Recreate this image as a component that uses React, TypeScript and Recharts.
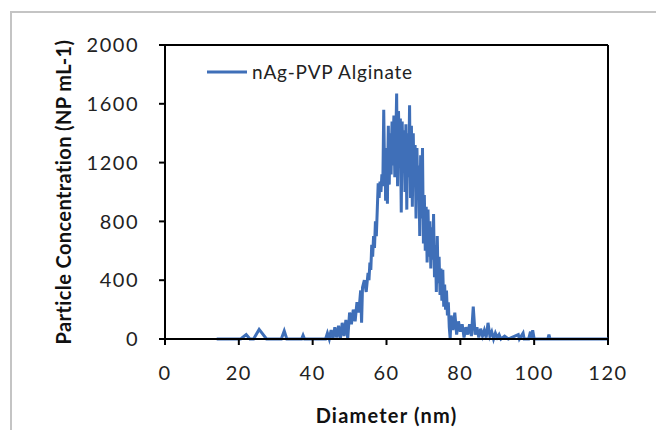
import React from "react";
import { LineChart, Line, XAxis, YAxis, ReferenceLine, Legend } from "recharts";

const diameters: number[] = [
  14, 20.5, 22, 23, 24, 25.5, 27.5, 31.5, 32.3, 33, 37, 37.4, 37.8, 43.5,
  44, 44.5, 45, 45.5, 46, 46.5, 47, 47.5, 48, 48.5, 49, 49.5,
  50, 50.5, 51, 51.5, 52, 52.5, 53, 53.25, 53.5, 54, 54.5,
  55, 55.25, 55.5, 55.75, 56, 56.25, 56.5, 56.75, 57, 57.25, 57.5, 57.75,
  58, 58.25, 58.5, 58.75, 59, 59.25,
  59.5, 59.625, 59.75, 59.875, 60, 60.125, 60.25, 60.375, 60.5, 60.625, 60.75, 60.875,
  61, 61.125, 61.25, 61.375, 61.5, 61.625, 61.75, 61.875, 62, 62.125, 62.25, 62.375,
  62.5, 62.625, 62.75, 62.875, 63, 63.125, 63.25, 63.375, 63.5, 63.625, 63.75, 63.875,
  64, 64.125, 64.25, 64.375, 64.5, 64.625, 64.75, 64.875, 65, 65.125, 65.25, 65.375,
  65.5, 65.625, 65.75, 65.875, 66, 66.125, 66.25, 66.375, 66.5, 66.625, 66.75, 66.875,
  67, 67.125, 67.25, 67.375, 67.5, 67.625, 67.75, 67.875, 68, 68.125, 68.25, 68.375,
  68.5, 68.625, 68.75, 68.875, 69, 69.125, 69.25, 69.375, 69.5, 69.625, 69.75,
  70, 70.25, 70.5, 70.75, 71, 71.25, 71.5, 71.75, 72, 72.25, 72.5, 72.75,
  73, 73.25, 73.5, 73.75, 74, 74.25, 74.5, 74.75, 75, 75.25, 75.5, 75.75,
  76, 76.25, 76.5, 76.75, 77, 77.25, 77.5, 78, 78.5, 79, 79.5, 80, 80.5, 81, 81.5,
  82, 82.5, 83, 83.5, 84, 84.5, 85, 85.5, 86, 86.5, 87, 87.5, 88, 88.5, 89, 89.5,
  90, 90.5, 91, 92, 93, 95.7, 96, 97, 97.3, 98.5, 99, 99.3, 99.6, 100, 103.7, 104, 104.3, 120,
];

const concentrations: number[] = [
  0, 0, 30, 0, 0, 65, 0, 0, 55, 0, 0, 25, 0, 0,
  40, 0, 60, 0, 80, 10, 90, 0, 110, 20, 130, 0,
  180, 100, 200, 120, 250, 180, 330, 110, 350, 400, 320,
  450, 400, 520, 470, 640, 560, 700, 620, 800, 700, 880, 1060,
  960, 1070, 1000, 1120, 1040, 1560,
  1100, 1300, 940, 1150, 1180, 1050, 920, 1250, 1450, 1200, 1050, 1300,
  1400, 1250, 1120, 1350, 1480, 1300, 1180, 1400, 1520, 1300, 1100, 1250,
  1450, 1500, 1670, 1300, 1040, 1350, 1550, 1400, 1200, 1350, 1500, 1150,
  860, 1200, 1480, 1300, 1150, 1300, 1420, 1200, 1000, 1250, 1460, 1150,
  880, 1200, 1400, 1250, 1100, 1350, 1590, 1250, 960, 1200, 1450, 1150,
  900, 1150, 1400, 1200, 1050, 1200, 1320, 1050, 820, 1100, 1300, 1100,
  950, 1050, 1180, 950, 700, 1000, 1250, 1000, 820, 1050, 1300,
  650, 980, 600, 900, 520, 880, 560, 800, 480, 760, 540, 850,
  420, 640, 320, 700, 380, 560, 300, 480, 260, 470, 220, 370,
  200, 330, 160, 250, 80, 0, 160, 60, 180, 30, 120, 50, 100, 10, 80,
  30, 100, 20, 220, 30, 80, 10, 70, 20, 60, 10, 110, 20, 50, 0, 40,
  10, 30, 0, 20, 0, 30, 0, 40, 0, 0, 50, 0, 60, 0, 0, 30, 0, 0,
];

const xTicks: number[] = [0, 20, 40, 60, 80, 100, 120];
const yTicks: number[] = [0, 400, 800, 1200, 1600, 2000];

const seriesName = "nAg-PVP Alginate";

const data = diameters.map((d, i) => ({ d, c: concentrations[i] }));

const FONT = "Lato, 'Open Sans', sans-serif";
const BLUE = "#3f6fb8";

const LegendContent = () => (
  <div style={{ display: "flex", alignItems: "center", fontFamily: FONT, fontSize: 19, letterSpacing: 0.8, color: "#222", whiteSpace: "nowrap" }}>
    <svg width={40} height={6} style={{ marginRight: 5 }}>
      <line x1={0} y1={3} x2={40} y2={3} stroke={BLUE} strokeWidth={3} />
    </svg>
    <span>{seriesName}</span>
  </div>
);

export default function App() {
  return (
    <div style={{ position: "absolute", left: 0, top: 0, width: 656, height: 430, background: "#fff" }}>
      <div
        style={{
          position: "absolute",
          left: 10,
          top: 11,
          width: 646,
          height: 419,
          borderTop: "2px solid #c4c4c4",
          borderLeft: "2px solid #c4c4c4",
          boxSizing: "border-box",
        }}
      />
      <div style={{ position: "absolute", left: 0, top: 0 }}>
        <LineChart width={656} height={430} data={data} margin={{ top: 45, right: 48, bottom: 0, left: 0 }}>
          <XAxis
            dataKey="d"
            type="number"
            domain={[0, 120]}
            ticks={xTicks}
            height={91}
            stroke="#000"
            strokeWidth={2}
            tickSize={6}
            tickMargin={21}
            tick={{ fill: "#222", fontSize: 20, letterSpacing: 1.5, fontFamily: FONT }}
            tickLine={{ stroke: "#000", strokeWidth: 2 }}
            label={{ value: "Diameter (nm)", position: "insideBottom", offset: 7, fill: "#111", fontSize: 20, letterSpacing: 1.2, fontWeight: 700, fontFamily: FONT }}
          />
          <YAxis
            type="number"
            domain={[0, 2000]}
            ticks={yTicks}
            width={165}
            stroke="#000"
            strokeWidth={2}
            tickSize={6}
            tickMargin={20}
            tick={{ fill: "#222", fontSize: 20, letterSpacing: 1.5, fontFamily: FONT }}
            tickLine={{ stroke: "#000", strokeWidth: 2 }}
            label={{
              value: "Particle Concentration (NP mL-1)",
              angle: -90,
              position: "insideLeft",
              offset: 64,
              fill: "#111",
              fontSize: 20,
              letterSpacing: 0.4,
              fontWeight: 700,
              fontFamily: FONT,
              style: { textAnchor: "middle" },
            }}
          />
          <ReferenceLine y={2000} stroke="#000" strokeWidth={2} />
          <ReferenceLine x={120} stroke="#000" strokeWidth={2} />
          <Legend
            layout="horizontal"
            verticalAlign="middle"
            align="center"
            content={<LegendContent />}
            wrapperStyle={{ position: "absolute", left: 207, top: 60, width: "auto" }}
          />
          <Line
            type="linear"
            dataKey="c"
            name={seriesName}
            stroke={BLUE}
            strokeWidth={3}
            dot={false}
            isAnimationActive={false}
          />
        </LineChart>
      </div>
    </div>
  );
}
